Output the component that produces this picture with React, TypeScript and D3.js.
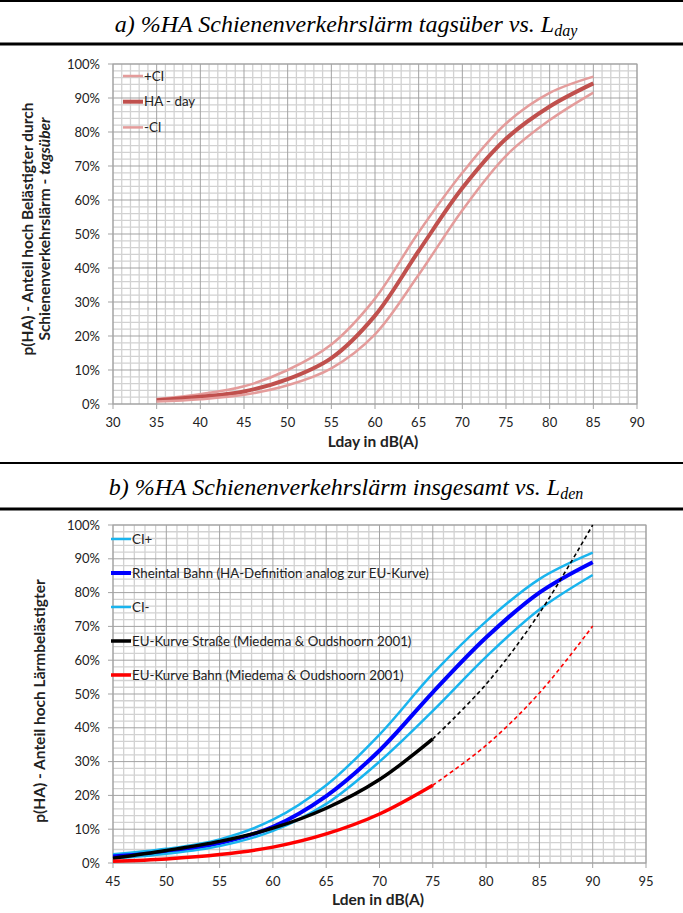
import React from 'react';
import * as d3 from 'd3';

// Chart a) – daytime levels
const dayLevels = [35, 40, 45, 50, 55, 60, 65, 70, 75, 80, 85];
const haDay = [1.1, 2.1, 3.7, 7.3, 13.5, 26, 45, 63.5, 78, 87.5, 94.3];
const haDayPlusCI = [1.5, 2.9, 5.2, 10, 17.5, 31, 50.5, 68, 82.5, 91.5, 96.3];
const haDayMinusCI = [0.7, 1.4, 2.7, 5.5, 10.5, 20.5, 38, 57, 73, 83.5, 91.6];

// Chart b) – Lden levels
const denLevels = [45, 50, 55, 60, 65, 70, 75, 80, 85, 90];
const rheintal = [1.9, 3.3, 5.9, 10.7, 19.8, 33.3, 50.5, 66.7, 80, 89];
const rheintalPlusCI = [2.6, 4.2, 7, 12.8, 23, 38, 56, 71.5, 84, 91.8];
const rheintalMinusCI = [1.3, 2.7, 5, 9.5, 17.5, 30, 45, 61, 75, 85.2];
const euRoad = [1.4, 3.7, 6.4, 10.3, 16.2, 24.7, 36.7, 52.9, 73.9, 100];
const euRail = [0.5, 1.2, 2.5, 4.7, 8.6, 14.5, 23, 34.8, 50.3, 70.1];
const euSolidUntil = 75;

const dayTicks = [30, 35, 40, 45, 50, 55, 60, 65, 70, 75, 80, 85, 90];
const denTicks = [45, 50, 55, 60, 65, 70, 75, 80, 85, 90, 95];
const pctTicks = [0, 10, 20, 30, 40, 50, 60, 70, 80, 90, 100];

const FONT = 'Lato, "Open Sans", sans-serif';
const SERIF = '"Liberation Serif", "Times New Roman", serif';

type Series = {
  name: string;
  values: number[];
  color: string;
  width: number;
};

type PanelProps = {
  xDomain: [number, number];
  xTicks: number[];
  levels: number[];
  left: number;
  right: number;
  top: number;
  bottom: number;
  series: Series[];
  legendX0: number;
  legendY0: number;
  legendStep: number;
  children?: React.ReactNode;
};

const Panel = ({ xDomain, xTicks, levels, left, right, top, bottom, series, legendX0, legendY0, legendStep, children }: PanelProps) => {
  const x = d3.scaleLinear().domain(xDomain).range([left, right]);
  const y = d3.scaleLinear().domain([0, 100]).range([bottom, top]);
  const line = d3
    .line<[number, number]>()
    .x(d => x(d[0]))
    .y(d => y(d[1]))
    .curve(d3.curveCatmullRom.alpha(0.5));

  const minorX = d3.range(xDomain[0], xDomain[1] + 0.01, 1).filter(v => v % 5 !== 0);
  const minorY = d3.range(0, 100.01, 2).filter(v => v % 10 !== 0);

  return (
    <g>
      {/* minor grid */}
      {minorX.map(v => (
        <line key={'mx' + v} x1={x(v)} x2={x(v)} y1={top} y2={bottom} stroke="#d2d2d2" strokeWidth={1.3} />
      ))}
      {minorY.map(v => (
        <line key={'my' + v} x1={left} x2={right} y1={y(v)} y2={y(v)} stroke="#d2d2d2" strokeWidth={1.3} />
      ))}
      {/* major grid */}
      {xTicks.map(v => (
        <line key={'gx' + v} x1={x(v)} x2={x(v)} y1={top} y2={bottom + 5} stroke="#a3a3a3" strokeWidth={1} />
      ))}
      {pctTicks.map(v => (
        <line key={'gy' + v} x1={left - 5} x2={right} y1={y(v)} y2={y(v)} stroke="#a3a3a3" strokeWidth={1} />
      ))}
      <rect x={left} y={top} width={right - left} height={bottom - top} fill="none" stroke="#a3a3a3" />

      {/* tick labels */}
      {pctTicks.map(v => (
        <text key={'ty' + v} x={left - 13} y={y(v)} dy="0.35em" textAnchor="end" fontSize={13} fill="#222">
          {v + '%'}
        </text>
      ))}
      {xTicks.map(v => (
        <text key={'tx' + v} x={x(v)} y={bottom + 18} dy="0.35em" textAnchor="middle" fontSize={13} fill="#222">
          {v}
        </text>
      ))}

      {/* curves */}
      {series.map(s => {
        const pts = levels.map((l, i) => [l, s.values[i]] as [number, number]);
        if (s.name.startsWith('EU')) {
          const solid = pts.filter(p => p[0] <= euSolidUntil);
          const dashed = pts.filter(p => p[0] >= euSolidUntil);
          return (
            <g key={s.name}>
              <path d={line(solid) || ''} fill="none" stroke={s.color} strokeWidth={s.width} />
              <path d={line(dashed) || ''} fill="none" stroke={s.color} strokeWidth={1.6} strokeDasharray="4,3" />
            </g>
          );
        }
        return <path key={s.name} d={line(pts) || ''} fill="none" stroke={s.color} strokeWidth={s.width} />;
      })}

      {/* legend */}
      {series.map((s, i) => (
        <g key={'lg' + s.name} transform={`translate(${legendX0},${legendY0 + i * legendStep})`}>
          <line x1={0} x2={20} y1={0} y2={0} stroke={s.color} strokeWidth={s.width} />
          <text x={21} y={0} dy="0.35em" fontSize={13.3} fill="#222">
            {s.name}
          </text>
        </g>
      ))}
      {children}
    </g>
  );
};

const App = () => {
  const topSeries: Series[] = [
    { name: '+CI', values: haDayPlusCI, color: '#e49c9b', width: 2.5 },
    { name: 'HA - day', values: haDay, color: '#c0504d', width: 4 },
    { name: '-CI', values: haDayMinusCI, color: '#e49c9b', width: 2.5 },
  ];
  const bottomSeries: Series[] = [
    { name: 'CI+', values: rheintalPlusCI, color: '#19b4ee', width: 2.5 },
    { name: 'Rheintal Bahn (HA-Definition analog zur EU-Kurve)', values: rheintal, color: '#0000ff', width: 4 },
    { name: 'CI-', values: rheintalMinusCI, color: '#19b4ee', width: 2.5 },
    { name: 'EU-Kurve Straße (Miedema & Oudshoorn 2001)', values: euRoad, color: '#000000', width: 3.5 },
    { name: 'EU-Kurve Bahn (Miedema & Oudshoorn 2001)', values: euRail, color: '#ff0000', width: 3.5 },
  ];

  return (
    <svg
      width={683}
      height={913}
      style={{ position: 'absolute', left: 0, top: 0, background: 'white', fontFamily: FONT }}
    >
      <rect width={683} height={913} fill="white" />

      {/* header a) */}
      <line x1={0} x2={683} y1={1} y2={1} stroke="#000" strokeWidth={2} />
      <text x={346} y={32} textAnchor="middle" fontFamily={SERIF} fontStyle="italic" fontSize={24}>
        a) %HA Schienenverkehrslärm tagsüber vs. L<tspan fontSize={16} dy={4}>day</tspan>
      </text>
      <line x1={0} x2={683} y1={44} y2={44} stroke="#000" strokeWidth={3} />

      <Panel
        xDomain={[30, 90]}
        xTicks={dayTicks}
        levels={dayLevels}
        left={113}
        right={637}
        top={64}
        bottom={404}
        series={topSeries}
        legendX0={123}
        legendY0={76}
        legendStep={25.7}
      >
        <text x={373} y={442} dy="0.35em" textAnchor="middle" fontSize={15.5} fontWeight="bold" fill="#222">
          Lday in dB(A)
        </text>
        <text transform="translate(33,229) rotate(-90)" textAnchor="middle" fontSize={15.5} fontWeight="bold" fill="#222">
          p(HA) - Anteil hoch Belästigter  durch
        </text>
        <text transform="translate(50,229) rotate(-90)" textAnchor="middle" fontSize={15.5} fontWeight="bold" fill="#222">
          Schienenverkehrslärm - <tspan fontStyle="italic">tagsüber</tspan>
        </text>
      </Panel>

      {/* header b) */}
      <line x1={0} x2={683} y1={463} y2={463} stroke="#000" strokeWidth={2} />
      <text x={346} y={495} textAnchor="middle" fontFamily={SERIF} fontStyle="italic" fontSize={24}>
        b) %HA Schienenverkehrslärm insgesamt vs. L<tspan fontSize={16} dy={4}>den</tspan>
      </text>
      <line x1={0} x2={683} y1={509} y2={509} stroke="#000" strokeWidth={3} />

      <Panel
        xDomain={[45, 95]}
        xTicks={denTicks}
        levels={denLevels}
        left={113}
        right={646}
        top={525}
        bottom={863}
        series={bottomSeries}
        legendX0={111}
        legendY0={539}
        legendStep={34}
      >
        <text x={378} y={900} dy="0.35em" textAnchor="middle" fontSize={15.5} fontWeight="bold" fill="#222">
          Lden in dB(A)
        </text>
        <text transform="translate(45,701) rotate(-90)" textAnchor="middle" fontSize={15.5} fontWeight="bold" fill="#222">
          p(HA) - Anteil hoch Lärmbelästigter
        </text>
      </Panel>
    </svg>
  );
};

export default App;
